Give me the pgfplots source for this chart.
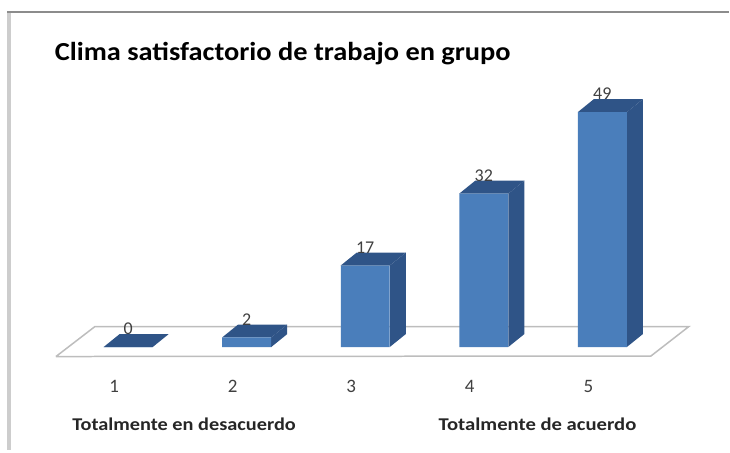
\documentclass[border=0pt]{standalone}
\usepackage{pgfplots}
\pgfplotsset{compat=1.18}
\usepackage{fontspec}
\setmainfont{Carlito}
\definecolor{barfront}{HTML}{4A7EBB}
\definecolor{barside}{HTML}{2F5487}
\definecolor{floorline}{HTML}{BDBDBD}
\definecolor{framedark}{HTML}{8C8C8C}
\definecolor{framelight}{HTML}{CDCDCD}
\definecolor{labelgray}{HTML}{404040}
\begin{document}
\begin{tikzpicture}
\begin{axis}[
  scale only axis, width=730pt, height=451pt,
  xmin=-0.081, xmax=6.069, ymin=-21.56, ymax=72.4,
  axis line style={draw=none},
  xtick={1,2,3,4,5},
  ytick=\empty,
  xtick pos=bottom,
  major tick length=0pt,
  xticklabel style={yshift=74pt, xshift=-14pt, font=\fontsize{19}{22}\selectfont, text=labelgray},
  /pgf/number format/assume math mode=true,
  title={\textbf{Clima satisfactorio de trabajo en grupo}},
  title style={at={(0.070,0.867)}, anchor=west, yshift=0pt, xscale=1.093, font=\fontsize{26}{30}\selectfont, text=black},
  clip=false,
  ybar, bar width=49pt,
]
% page frame
\addplot[ybar=0pt, draw=none, fill=none, forget plot] coordinates {(1,0)};
\draw[framedark, line width=2pt] (axis cs:-0.02,69.9) -- (axis cs:6.069,69.9);
\draw[framelight, line width=4pt] (axis cs:-0.005,69.7) -- (axis cs:-0.005,-21.56);
% floor
\addplot[sharp plot, draw=floorline, line width=1.5pt, fill=white, forget plot] coordinates {(0.391,-1.98) (0.7195,4.27) (5.73,4.27) (5.41,-1.88) (0.391,-1.98)};
% tops and sides
\addplot[sharp plot, fill=barside, draw=none, forget plot] coordinates {(0.793,0) (1.207,0) (1.342,2.7) (0.928,2.7)};
\addplot[sharp plot, fill=barside, draw=none, forget plot] coordinates {(2.207,0) (2.342,2.7) (2.342,4.7) (2.207,2)};
\addplot[sharp plot, fill=barside, draw=none, forget plot] coordinates {(1.793,2) (2.207,2) (2.342,4.7) (1.928,4.7)};
\addplot[sharp plot, fill=barside, draw=none, forget plot] coordinates {(3.207,0) (3.342,2.7) (3.342,19.7) (3.207,17)};
\addplot[sharp plot, fill=barside, draw=none, forget plot] coordinates {(2.793,17) (3.207,17) (3.342,19.7) (2.928,19.7)};
\addplot[sharp plot, fill=barside, draw=none, forget plot] coordinates {(4.207,0) (4.342,2.7) (4.342,34.7) (4.207,32)};
\addplot[sharp plot, fill=barside, draw=none, forget plot] coordinates {(3.793,32) (4.207,32) (4.342,34.7) (3.928,34.7)};
\addplot[sharp plot, fill=barside, draw=none, forget plot] coordinates {(5.207,0) (5.342,2.7) (5.342,51.7) (5.207,49)};
\addplot[sharp plot, fill=barside, draw=none, forget plot] coordinates {(4.793,49) (5.207,49) (5.342,51.7) (4.928,51.7)};
% fronts
\addplot[ybar, fill=barfront, draw=none,
  nodes near coords,
  every node near coord/.append style={font=\fontsize{18}{21}\selectfont, text=labelgray, yshift=10pt, inner sep=2pt, anchor=south, /pgf/number format/assume math mode=true},
] coordinates {(1,0) (2,2) (3,17) (4,32) (5,49)};
\node[anchor=west, xscale=1.13, font=\fontsize{18}{21}\selectfont\bfseries, text=black!85] at (axis cs:0.495,-16.1) {Totalmente en desacuerdo};
\node[anchor=west, xscale=1.15, font=\fontsize{18}{21}\selectfont\bfseries, text=black!85] at (axis cs:3.585,-16.1) {Totalmente de acuerdo};
\end{axis}
\end{tikzpicture}
\end{document}
